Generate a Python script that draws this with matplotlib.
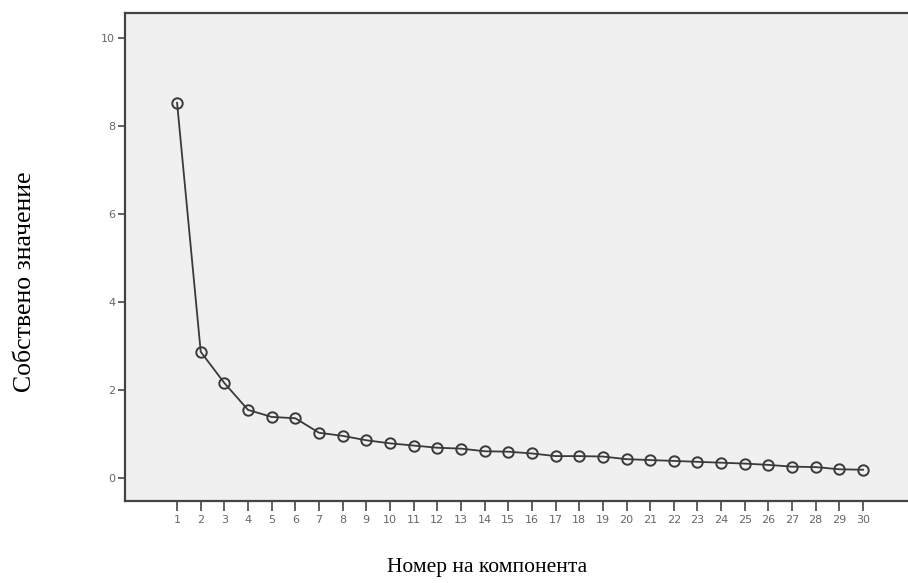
import matplotlib.pyplot as plt

# Scree plot data
components = list(range(1, 31))
eigenvalues = [8.53, 2.87, 2.16, 1.55, 1.39, 1.36, 1.03, 0.96, 0.86, 0.79,
               0.74, 0.69, 0.67, 0.61, 0.60, 0.56, 0.50, 0.50, 0.49, 0.43,
               0.41, 0.39, 0.37, 0.35, 0.33, 0.30, 0.26, 0.25, 0.20, 0.19]
y_ticks = [0, 2, 4, 6, 8, 10]

fig = plt.figure(figsize=(9.08, 5.83), dpi=100)
ax = fig.add_axes([0.1377, 0.1407, 0.8623, 0.837])
ax.set_facecolor('#f0f0f0')

ax.plot(components, eigenvalues, color='#3a3a3a', linewidth=1.3,
        marker='o', markersize=7.5, markerfacecolor='none',
        markeredgecolor='#3a3a3a', markeredgewidth=1.4)

ax.set_xlim(-1.2, 31.9)
ax.set_ylim(-0.52, 10.57)
ax.set_xticks(components)
ax.set_xticklabels([str(c) for c in components])
ax.set_yticks(y_ticks)

for side in ['top', 'left', 'bottom']:
    ax.spines[side].set_color('#444444')
    ax.spines[side].set_linewidth(1.6)
ax.spines['right'].set_visible(False)

ax.tick_params(axis='both', colors='#555555', labelsize=8, width=1.3,
               labelcolor='#666666')
ax.tick_params(axis='y', length=5, pad=2)
ax.tick_params(axis='x', length=7, pad=3)

fig.text(0.536, 0.026, 'Номер на компонента', ha='center', va='center',
         fontsize=15.5, family='Liberation Serif')
fig.text(0.028, 0.517, 'Собствено значение', ha='center', va='center',
         rotation=90, fontsize=18.5, family='Liberation Serif')

fig.savefig('out.png', dpi=100)
